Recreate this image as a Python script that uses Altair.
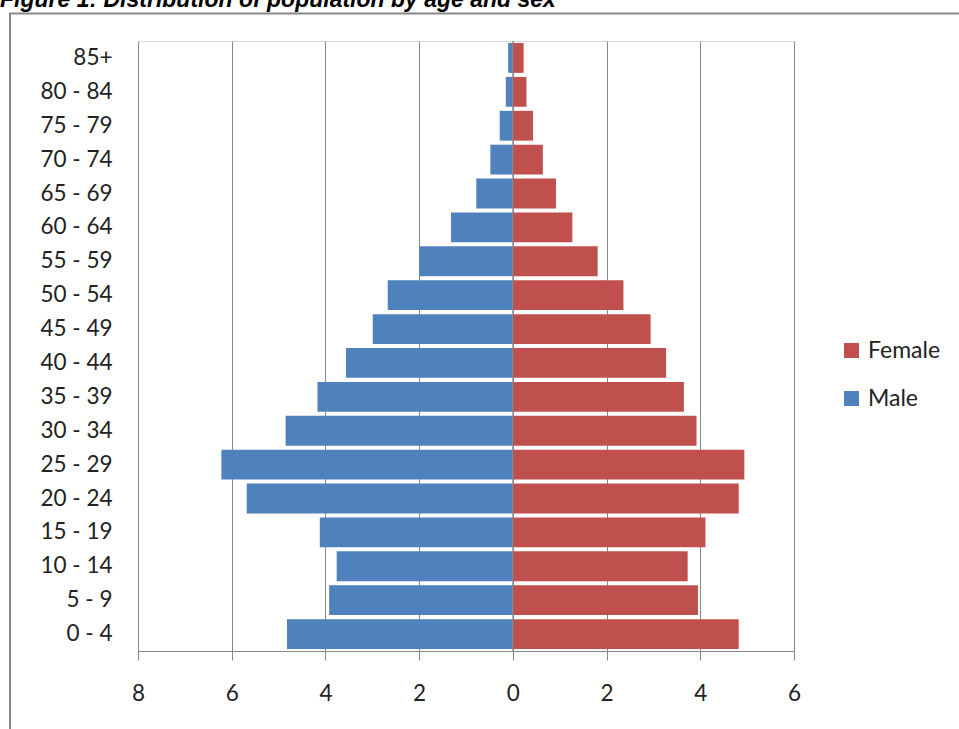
import altair as alt
import pandas as pd

ages = ["85+", "80 - 84", "75 - 79", "70 - 74", "65 - 69", "60 - 64", "55 - 59",
        "50 - 54", "45 - 49", "40 - 44", "35 - 39", "30 - 34", "25 - 29",
        "20 - 24", "15 - 19", "10 - 14", "5 - 9", "0 - 4"]
male = [0.10, 0.15, 0.28, 0.48, 0.78, 1.32, 2.00, 2.67, 2.99, 3.56, 4.17,
        4.85, 6.22, 5.68, 4.12, 3.76, 3.92, 4.82]
female = [0.23, 0.29, 0.43, 0.64, 0.92, 1.27, 1.81, 2.36, 2.94, 3.27, 3.65,
          3.92, 4.94, 4.82, 4.11, 3.73, 3.95, 4.82]
sexes = ["Female", "Male"]
colors = ["#C0504D", "#4F81BD"]
x_ticks = [-8, -6, -4, -2, 0, 2, 4, 6]
title_text = "Figure 1:  Distribution of population by age and sex"

rows = []
for a, m, f in zip(ages, male, female):
    rows.append({"age": a, "sex": "Male", "value": -m})
    rows.append({"age": a, "sex": "Female", "value": f})
df = pd.DataFrame(rows)
one = pd.DataFrame({"t": [title_text]})

FONT = "Lato"
GRAY = "#878787"

frame = alt.Chart(one).mark_rect(filled=False, stroke=GRAY, strokeWidth=2).encode(
    x=alt.value(-128), x2=alt.value(900), y=alt.value(-27.5), y2=alt.value(720)
)

title = alt.Chart(one).mark_text(
    align="left", baseline="alphabetic", font="Liberation Sans",
    fontSize=23, fontStyle="italic", fontWeight="bold", color="#000000"
).encode(x=alt.value(-138), y=alt.value(-34), text="t:N")

bars = alt.Chart(df).mark_bar().encode(
    y=alt.Y("age:N", sort=ages, scale=alt.Scale(paddingInner=0.12, paddingOuter=0.06),
            axis=alt.Axis(title=None, domain=False, ticks=False, tickSize=0,
                          labelPadding=26, labelFont=FONT, labelFontSize=22.5,
                          labelColor="#222222", grid=False)),
    x=alt.X("value:Q", scale=alt.Scale(domain=[-8, 6], nice=False),
            axis=alt.Axis(title=None, values=x_ticks, labelExpr="abs(datum.value)",
                          grid=True, gridColor=GRAY, gridOpacity=1, gridWidth=1,
                          domainColor=GRAY, domainWidth=1, tickColor=GRAY,
                          tickSize=9, labelPadding=33, labelBaseline="middle",
                          labelFlush=False, labelFont=FONT, labelFontSize=22.5,
                          labelColor="#222222")),
    color=alt.Color("sex:N", scale=alt.Scale(domain=sexes, range=colors),
                    legend=alt.Legend(title=None, orient="none", legendX=702, legendY=298,
                                      symbolType="square", symbolSize=225,
                                      symbolStrokeWidth=0, labelFont=FONT,
                                      labelFontSize=23, labelColor="#222222",
                                      rowPadding=24, labelOffset=5)),
)

zero = alt.Chart(one).mark_rule(color=GRAY, strokeWidth=1).encode(x=alt.datum(0))

chart = alt.layer(frame, bars, zero, title).properties(
    width=656, height=610,
    autosize=alt.AutoSizeParams(type="none"),
    padding={"left": 138, "top": 41, "right": 165, "bottom": 78},
).configure_view(stroke=None).configure(background="white")

chart.save("out.html", embed_options={"renderer": "svg", "actions": False})
